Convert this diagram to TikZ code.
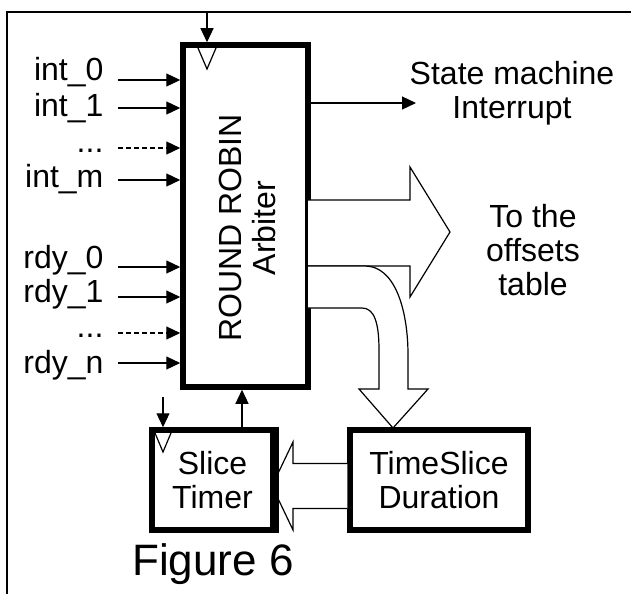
\documentclass[tikz,border=0pt]{standalone}
\usepackage{fontspec}
\setmainfont{Liberation Sans}
\usetikzlibrary{arrows.meta}

\tikzset{every picture/.style={line width=1.2pt}}
\tikzset{
  blk/.style={draw, line width=5.5pt, inner sep=0pt, align=center},
  lbl/.style={inner sep=0pt, font=\fontsize{32}{34}\selectfont, align=center},
  sig/.style={-{Triangle[length=14pt,width=13pt]}},
  fat/.style={draw, fill=white, line width=1.2pt, line join=miter}
}

\begin{document}
\begin{tikzpicture}[x=1pt,y=1pt,yscale=-1,xscale=1]
\useasboundingbox (0,0) rectangle (631,594);

%Frame
\draw [line width=1.6pt] (631,12) -- (7,12) -- (7,594) ;
\coordinate (clk) at (207,12);

%Blocks
\node [blk, minimum width=125, minimum height=342] (arb) at (245.5,216) {};
\node [lbl, rotate=90] (arbtxt) at (247,228) {ROUND ROBIN\\Arbiter};
\node [blk, minimum width=178, minimum height=100] (dur) at (439,480) {};
\node [lbl] (durtxt) at (439,480) {TimeSlice\\Duration};
\node [blk, minimum width=121, minimum height=100] (tmr) at (212.5,480) {};
\node [lbl] (tmrtxt) at (212.5,480) {Slice\\Timer};

%Clock marks
\draw (198,48) -- (207,69) -- (216,48) ;
\draw (155,433) -- (163,452) -- (171,433) ;
\draw [sig] (clk) -- (clk |- arb.north) ;
\coordinate (tclk) at (163,397);
\draw [sig] (tclk) -- (tclk |- tmr.north) ;

%Inputs (label baseline, arrow height)
\foreach \name/\txt/\b/\y in {i0/int\_0/80/80, i1/int\_1/116/108, im/int\_m/187/180, r0/rdy\_0/268/267, r1/rdy\_1/302/297, rn/rdy\_n/373/363} {
  \node [lbl, anchor=base east] (\name) at (104,\b) {\txt};
  \coordinate (\name s) at (118,\y);
  \draw [sig] (\name s) -- (\name s -| arb.west) ;
}
\foreach \name/\b/\y in {id/152/148, rd/337/333} {
  \node [lbl, anchor=base east] (\name) at (104,\b) {...};
  \coordinate (\name s) at (118,\y);
  \draw [sig, dash pattern=on 5pt off 3pt] (\name s) -- (\name s -| arb.west) ;
}

%Outputs
\coordinate (irq) at (416,103);
\draw [sig] (irq -| arb.east) -- (irq) ;
\node [lbl] (irqtxt) at (512,93) {State machine\\Interrupt};

%Wide arrow to offsets
\draw [fat] (308,200) -- (410,200) -- (410,167) -- (450,232) -- (410,297) -- (410,266) -- (308,266) ;
\node [lbl] (offtxt) at (533,250) {To the\\offsets\\table};

%Curved wide arrow to duration
\draw [fat] (308,266) -- (365,266) .. controls (395,266) and (408,310) .. (408,355) -- (408,389) -- (428,389) -- (393,428) -- (359,389) -- (379,389) -- (379,350) .. controls (379,322) and (374,308) .. (362,308) -- (308,308) ;

%Wide arrow back to timer
\draw [fat] (dur.west |- 0,463.5) -- (293,463.5) -- (293,442) -- (272,486) -- (293,530) -- (293,508.5) -- (dur.west |- 0,508.5) ;
\draw [line width=5.5pt] (tmr.north east) -- (tmr.south east) ;

%Timer to arbiter
\draw [sig] (tmr.north -| 242,0) -- (arb.south -| 242,0) ;

% Text Node
\node [inner sep=0pt, font=\fontsize{44}{46}\selectfont] (fig) at (213,564) {Figure 6};

\end{tikzpicture}
\end{document}
